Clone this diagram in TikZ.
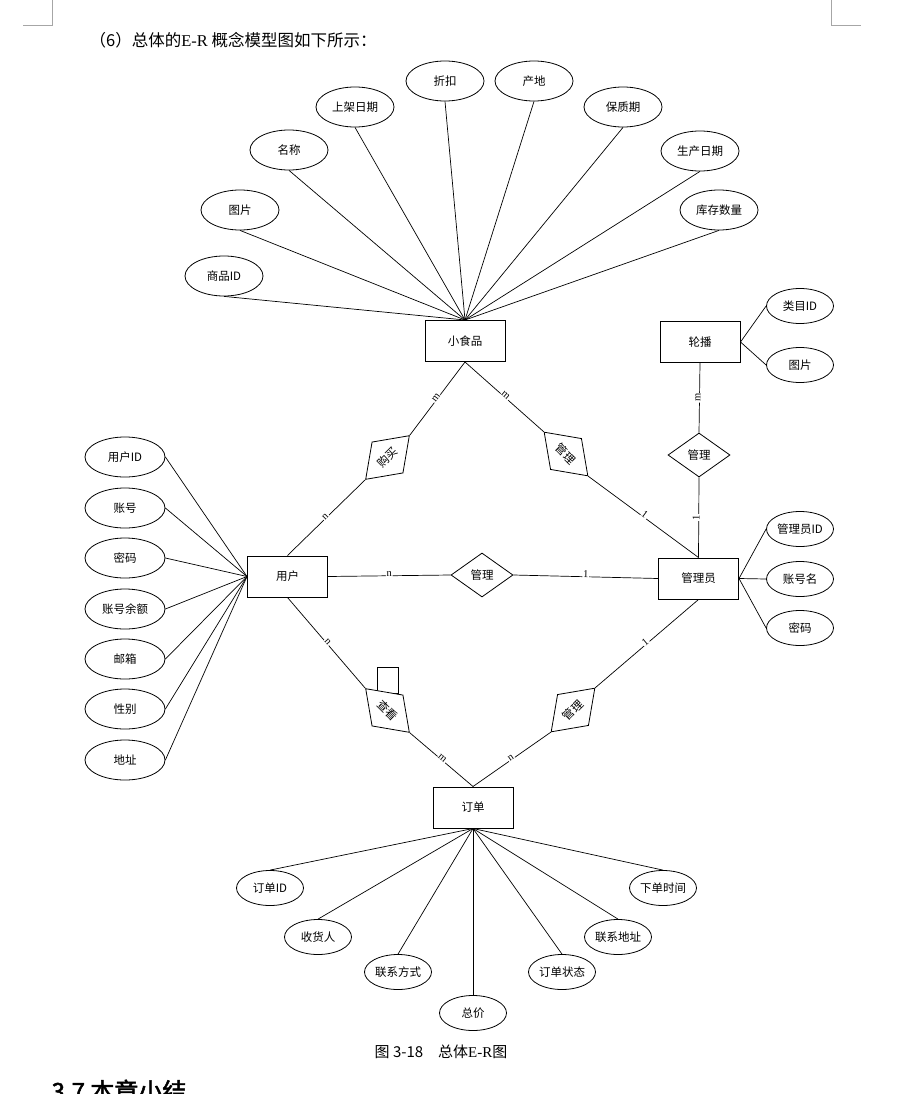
\documentclass[tikz,border=0pt]{standalone}
\usepackage{fontspec}
\setmainfont{Liberation Serif}
\newfontfamily\cjk{Noto Sans CJK SC}
\newfontfamily\cjkhead[FakeBold=2]{Noto Sans CJK SC}
\usetikzlibrary{shapes.geometric}

\tikzset{
    entity/.style={draw, line width=1pt, minimum width=80pt, minimum height=41pt, inner sep=0pt},
    attr/.style={draw, ellipse, line width=0.8pt, minimum width=78pt, minimum height=40pt, inner sep=0pt},
    smallattr/.style={attr, minimum width=67pt, minimum height=35pt},
    rel/.style={draw, diamond, fill=white, line width=0.8pt, minimum width=62pt, minimum height=44pt, inner sep=0pt},
    card/.style={sloped, above=-2pt, fill=white, inner sep=0.8pt, font=\rmfamily\fontsize{10.5}{10.5}\selectfont},
    pagecorner/.style={draw=black!35, line width=0.8pt}
}

\begin{document}
\begin{tikzpicture}[x=1pt, y=-1pt, line width=0.7pt, font=\cjk\fontsize{11.5}{13}\selectfont]
    \useasboundingbox (0,0) rectangle (897,1094);
    \draw[pagecorner] (52,0) -- (52,25) -- (23,25);
    \draw[pagecorner] (831,0) -- (831,25) -- (861,25);
    \node[anchor=west, font=\cjk\fontsize{16.5}{18}\selectfont] (title) at (86,40) {（6）总体的{\rmfamily E-R} 概念模型图如下所示：};

    % entities
    \node[entity] (food) at (465,341) {小食品};
    \node[entity] (banner) at (700,342) {轮播};
    \node[entity] (user) at (287.5,576.5) {用户};
    \node[entity] (admin) at (698.5,578.5) {管理员};
    \node[entity] (order) at (473,807.5) {订单};

    % attributes
    \foreach \nm/\x/\y/\txt in {fa1/224/276/商品ID, fa2/240/210/图片, fa3/289/150/名称,
        fa4/355/107/上架日期, fa5/445/81/折扣, fa6/534/81/产地, fa7/623/107/保质期,
        fa8/700/151/生产日期, fa9/719/210/库存数量} {
        \node[attr] (\nm) at (\x,\y) {\txt};
        \draw (\nm.south) -- (food.north);
    }
    \foreach \nm/\y/\txt in {ba1/306/类目ID, ba2/365/图片} {
        \node[smallattr] (\nm) at (800,\y) {\txt};
        \draw (banner.east) -- (\nm.west);
    }
    \foreach \nm/\y/\txt in {ua1/457/用户ID, ua2/508/账号, ua3/558/密码, ua4/609/账号余额,
        ua5/659/邮箱, ua6/709/性别, ua7/760/地址} {
        \node[attr, minimum width=80pt] (\nm) at (125,\y) {\txt};
        \draw (\nm.east) -- (user.west);
    }
    \foreach \nm/\y/\txt in {aa1/529/管理员ID, aa2/579/账号名, aa3/628/密码} {
        \node[smallattr] (\nm) at (800,\y) {\txt};
        \draw (admin.east) -- (\nm.west);
    }
    \foreach \nm/\x/\y/\txt in {oa1/270/888/订单ID, oa2/318/937/收货人, oa3/398/972/联系方式,
        oa4/473/1013/总价, oa5/562/972/订单状态, oa6/618/937/联系地址, oa7/663/888/下单时间} {
        \node[smallattr] (\nm) at (\x,\y) {\txt};
        \draw (order.south) -- (\nm.north);
    }

    % relationships
    \node[rel, rotate=45] (buy) at (387.5,457.5) {购买};
    \node[rel, rotate=-45] (stock) at (566,454) {管理};
    \node[rel] (bannerrel) at (699,455) {管理};
    \node[rel] (serve) at (482,575) {管理};
    \draw (377,667) rectangle (398,693);
    \node[rel, rotate=-45] (look) at (387.5,710.5) {查看};
    \node[rel, rotate=45] (handle) at (573,710) {管理};

    \draw (food.south) -- node[card] {m} (buy.east);
    \draw (buy.west) -- node[card] {n} (user.north);
    \draw (food.south) -- node[card] {m} (stock.west);
    \draw (stock.east) -- node[card] {1} (admin.north);
    \draw (banner.south) -- node[card] {m} (bannerrel.north);
    \draw (bannerrel.south) -- node[card] {1} (admin.north);
    \draw (user.east) -- node[card] {n} (serve.west);
    \draw (serve.east) -- node[card] {1} (admin.west);
    \draw (user.south) -- node[card] {n} (look.west);
    \draw (look.east) -- node[card] {m} (order.north);
    \draw (admin.south) -- node[card] {1} (handle.east);
    \draw (handle.west) -- node[card] {n} (order.north);

    \node[font=\cjk\fontsize{15}{16}\selectfont] (caption) at (441,1052) {图 3-18\quad 总体{\rmfamily E-R}图};
    \node[anchor=north west, font=\cjkhead\fontsize{24}{26}\selectfont] (heading) at (48,1076) {3.7 本章小结};
\end{tikzpicture}
\end{document}
